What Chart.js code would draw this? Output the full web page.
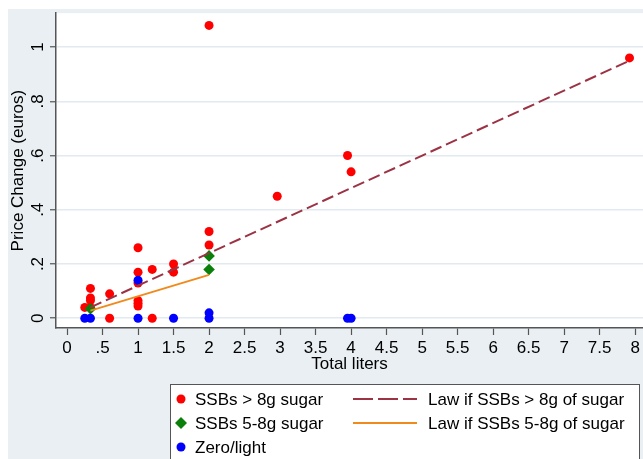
<!DOCTYPE html>
<html>
<head>
<meta charset="utf-8">
<script src="https://cdn.jsdelivr.net/npm/chart.js@4.4.0/dist/chart.umd.min.js"></script>
<style>
body { margin: 0; background: #fff; }
</style>
</head>
<body>
<canvas id="priceChart" width="643" height="459"></canvas>
<script>
// scatter data (x = total liters, y = price change in euros)
const ssbHighX = [0.25, 0.33, 0.33, 0.33, 0.33, 0.6, 0.6, 1, 1, 1, 1, 1, 1, 1.2, 1.2, 1.5, 1.5, 2, 2, 2, 2.96, 3.95, 4, 7.92];
const ssbHighY = [0.04, 0.11, 0.075, 0.065, 0.04, 0.09, 0, 0.26, 0.17, 0.13, 0.065, 0.055, 0.045, 0.18, 0, 0.2, 0.17, 1.08, 0.32, 0.27, 0.45, 0.6, 0.54, 0.96];

const ssbMidX = [0.33, 2, 2];
const ssbMidY = [0.035, 0.23, 0.18];

const zeroX = [0.25, 0.33, 1, 1, 1.5, 2, 2, 3.95, 4];
const zeroY = [0, 0, 0, 0.14, 0, 0.02, 0, 0, 0];

// law lines
const lawHighX = [0.33, 7.92];
const lawHighY = [0.04, 0.95];
const lawMidX = [0.33, 2];
const lawMidY = [0.028, 0.16];

const xTicks = [0, 0.5, 1, 1.5, 2, 2.5, 3, 3.5, 4, 4.5, 5, 5.5, 6, 6.5, 7, 7.5, 8];
const yTicks = [0, 0.2, 0.4, 0.6, 0.8, 1];

function pts(xs, ys) {
    return xs.map((x, i) => ({ x: x, y: ys[i] }));
}

function fmt(v) {
    // stata style: .5 instead of 0.5
    let s = String(Math.round(v * 10) / 10);
    if (s.startsWith("0.")) s = s.slice(1);
    return s;
}

const FONT = "'Liberation Sans', Arial, sans-serif";
const FSIZE = 17;

const stataPlugin = {
    id: "stata",
    beforeDraw(chart) {
        let ctx = chart.ctx;
        let a = chart.chartArea;
        ctx.save();
        ctx.fillStyle = "#ffffff";
        ctx.fillRect(0, 0, chart.width, chart.height);
        ctx.fillStyle = "#e9eff2";
        ctx.fillRect(8, 9, chart.width - 8, chart.height - 9);
        ctx.fillStyle = "#ffffff";
        ctx.fillRect(a.left, a.top, a.right - a.left, a.bottom - a.top);
        ctx.restore();
    },
    afterDraw(chart) {
        let ctx = chart.ctx;
        let yScale = chart.scales.y;
        ctx.save();
        // rotated y tick labels
        ctx.fillStyle = "#000";
        ctx.font = FSIZE + "px " + FONT;
        ctx.textAlign = "center";
        ctx.textBaseline = "middle";
        yTicks.forEach(v => {
            let py = yScale.getPixelForValue(v);
            ctx.save();
            ctx.translate(38, py);
            ctx.rotate(-Math.PI / 2);
            ctx.fillText(fmt(v), 0, 0);
            ctx.restore();
        });

        // legend box
        ctx.fillStyle = "#ffffff";
        ctx.fillRect(170, 384, 469, 80);
        ctx.strokeStyle = "#555";
        ctx.lineWidth = 1;
        ctx.strokeRect(170.5, 384.5, 469, 80);

        let ds = chart.data.datasets;
        let rows = [399, 423, 447];
        ctx.textAlign = "left";
        ctx.textBaseline = "middle";
        [0, 1, 2].forEach(i => {
            let d = ds[i];
            ctx.fillStyle = d.backgroundColor;
            ctx.beginPath();
            if (d.pointStyle === "rectRot") {
                ctx.moveTo(181, rows[i] - 6);
                ctx.lineTo(187, rows[i]);
                ctx.lineTo(181, rows[i] + 6);
                ctx.lineTo(175, rows[i]);
                ctx.closePath();
            } else {
                ctx.arc(181, rows[i], 4.5, 0, Math.PI * 2);
            }
            ctx.fill();
            ctx.fillStyle = "#000";
            ctx.fillText(d.label, 195, rows[i] + 1);
        });
        [3, 4].forEach((i, r) => {
            let d = ds[i];
            ctx.strokeStyle = d.borderColor;
            ctx.lineWidth = 2;
            ctx.setLineDash(d.borderDash ? [20, 5] : []);
            ctx.beginPath();
            ctx.moveTo(353, rows[r]);
            ctx.lineTo(417, rows[r]);
            ctx.stroke();
            ctx.setLineDash([]);
            ctx.fillStyle = "#000";
            ctx.fillText(d.label, 428, rows[r] + 1);
        });
        ctx.restore();
    }
};

new Chart(document.getElementById("priceChart"), {
    type: "scatter",
    data: {
        datasets: [{
            label: "SSBs > 8g sugar",
            data: pts(ssbHighX, ssbHighY),
            backgroundColor: "#ff0000",
            borderWidth: 0,
            pointRadius: 4.5,
            order: 5
        }, {
            label: "SSBs 5-8g sugar",
            data: pts(ssbMidX, ssbMidY),
            backgroundColor: "#0a800a",
            borderWidth: 0,
            pointStyle: "rectRot",
            pointRadius: 5.8,
            order: 4
        }, {
            label: "Zero/light",
            data: pts(zeroX, zeroY),
            backgroundColor: "#0000ff",
            borderWidth: 0,
            pointRadius: 4.5,
            order: 3
        }, {
            type: "line",
            label: "Law if SSBs > 8g of sugar",
            data: pts(lawHighX, lawHighY),
            borderColor: "#9b3344",
            borderWidth: 2,
            borderDash: [12, 5],
            pointRadius: 0,
            fill: false,
            order: 2
        }, {
            type: "line",
            label: "Law if SSBs 5-8g of sugar",
            data: pts(lawMidX, lawMidY),
            borderColor: "#f08a1c",
            borderWidth: 2,
            pointRadius: 0,
            fill: false,
            order: 1
        }]
    },
    options: {
        responsive: false,
        animation: false,
        layout: { autoPadding: false, padding: { left: 0, top: 13, right: 0, bottom: 84 } },
        plugins: {
            legend: { display: false },
            tooltip: { enabled: false }
        },
        scales: {
            x: {
                type: "linear",
                min: -0.155,
                max: 8.11,
                afterBuildTicks: s => { s.ticks = xTicks.map(v => ({ value: v })); },
                afterFit: s => { s.height = 47; s.paddingLeft = 0; s.paddingRight = 0; },
                border: { color: "#555", width: 1.5 },
                grid: { drawOnChartArea: false, drawTicks: true, tickLength: 7, tickColor: "#555", tickWidth: 1.2 },
                ticks: {
                    color: "#000",
                    font: { family: FONT, size: FSIZE },
                    padding: 3,
                    maxRotation: 0,
                    autoSkip: false,
                    callback: v => fmt(v)
                },
                title: {
                    display: true,
                    text: "Total liters",
                    color: "#000",
                    font: { family: FONT, size: FSIZE },
                    padding: 0
                }
            },
            y: {
                type: "linear",
                min: -0.036,
                max: 1.125,
                afterBuildTicks: s => { s.ticks = yTicks.map(v => ({ value: v })); },
                afterFit: s => { s.width = 56; },
                border: { color: "#555", width: 1.5 },
                grid: { color: "#e1eaf0", lineWidth: 1.5, drawTicks: true, tickLength: 6, tickColor: "#555", tickWidth: 1.2 },
                ticks: {
                    color: "rgba(0,0,0,0)",
                    font: { family: FONT, size: FSIZE },
                    callback: v => fmt(v)
                },
                title: {
                    display: true,
                    text: "Price Change (euros)",
                    color: "#000",
                    font: { family: FONT, size: FSIZE },
                    padding: { top: 8, bottom: 0 }
                }
            }
        }
    },
    plugins: [stataPlugin]
});
</script>
</body>
</html>
